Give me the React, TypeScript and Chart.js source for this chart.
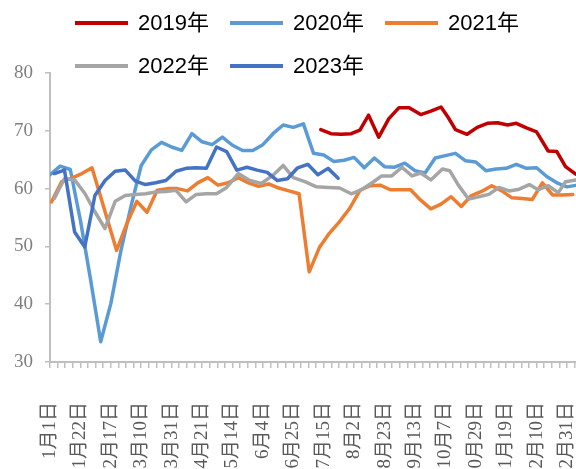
import React, { useEffect, useRef } from 'react';
import { Chart, registerables } from 'chart.js';

Chart.register(...registerables);

// Labelled dates on the x axis (one label every 21 position units)
const tickLabels = ['1月1日', '1月22日', '2月17日', '3月10日', '3月31日', '4月21日', '5月14日', '6月4日', '6月25日', '7月15日', '8月2日', '8月23日', '9月13日', '10月7日', '10月29日', '11月19日', '12月10日', '12月31日'];

const seriesNames = ['2019年', '2020年', '2021年', '2022年', '2023年'];
const seriesColors = ['#C00000', '#5B9BD5', '#ED7D31', '#A5A5A5', '#4472C4'];

// x = position along the date axis (day-like units), y = value
const x2019 = [187, 194, 201, 208, 214, 220, 227, 234, 241, 248, 256, 263, 270, 275, 280, 288, 295, 302, 309, 316, 322, 329, 336, 344, 350, 356, 363];
const y2019 = [70.2, 69.5, 69.4, 69.5, 70.1, 72.7, 68.9, 72.1, 74.0, 74.0, 72.8, 73.4, 74.1, 72.3, 70.2, 69.4, 70.6, 71.3, 71.4, 71.0, 71.3, 70.5, 69.8, 66.5, 66.4, 63.8, 62.5];

const x2020 = [0, 7, 14, 21, 28, 35, 42, 49, 56, 63, 70, 77, 84, 91, 98, 105, 112, 119, 126, 133, 140, 147, 154, 161, 168, 175, 182, 189, 196, 203, 210, 217, 224, 231, 238, 245, 252, 259, 266, 273, 280, 287, 294, 301, 308, 315, 322, 329, 336, 343, 350, 357, 364];
const y2020 = [62.4, 63.9, 63.3, 54.5, 44.3, 33.5, 40.1, 49.3, 57.0, 64.0, 66.7, 68.0, 67.2, 66.6, 69.5, 68.1, 67.6, 68.9, 67.5, 66.6, 66.6, 67.6, 69.5, 71.0, 70.6, 71.2, 66.1, 65.8, 64.7, 64.9, 65.4, 63.6, 65.3, 63.8, 63.7, 64.4, 63.1, 62.7, 65.3, 65.7, 66.1, 64.8, 64.6, 63.1, 63.4, 63.5, 64.2, 63.5, 63.6, 62.1, 61.0, 60.3, 60.6];

const x2021 = [1, 8, 15, 22, 29, 46, 53, 60, 67, 74, 81, 88, 95, 102, 109, 116, 123, 130, 137, 144, 151, 158, 165, 172, 179, 186, 193, 200, 207, 214, 221, 228, 235, 242, 249, 256, 263, 270, 277, 284, 291, 298, 305, 312, 319, 326, 333, 340, 347, 354, 361];
const y2021 = [57.7, 61.2, 61.8, 62.6, 63.6, 49.3, 53.9, 57.8, 55.9, 59.7, 60.0, 60.0, 59.6, 61.0, 61.9, 60.6, 61.0, 61.9, 61.0, 60.4, 60.8, 60.1, 59.6, 59.1, 45.6, 49.8, 52.3, 54.3, 56.6, 59.7, 60.5, 60.6, 59.8, 59.8, 59.8, 58.0, 56.5, 57.3, 58.6, 56.9, 58.8, 59.5, 60.5, 59.6, 58.4, 58.3, 58.1, 61.0, 58.9, 58.9, 59.0];

const x2022 = [3, 10, 17, 24, 31, 38, 45, 52, 59, 66, 73, 80, 87, 94, 101, 108, 115, 122, 130, 138, 146, 154, 161, 168, 176, 184, 192, 200, 208, 215, 223, 229, 236, 243, 250, 256, 263, 271, 276, 282, 289, 296, 303, 310, 317, 324, 331, 337, 344, 351, 356, 363];
const y2022 = [58.3, 61.7, 61.5, 59.2, 56.0, 53.1, 57.8, 58.8, 59.0, 59.1, 59.4, 59.5, 59.7, 57.7, 59.0, 59.1, 59.1, 60.2, 62.6, 61.4, 60.9, 62.3, 64.0, 61.9, 61.2, 60.3, 60.2, 60.1, 59.1, 59.8, 61.1, 62.2, 62.2, 63.7, 62.2, 62.7, 61.5, 63.4, 63.1, 60.6, 58.2, 58.6, 59.0, 60.2, 59.6, 59.9, 60.7, 59.8, 60.5, 59.3, 61.2, 61.5];

const x2023 = [3, 10, 17, 24, 31, 38, 45, 52, 59, 66, 73, 80, 87, 94, 101, 108, 115, 122, 129, 136, 143, 150, 157, 164, 171, 178, 185, 192, 199];
const y2023 = [62.6, 63.2, 52.5, 49.9, 58.8, 61.4, 63.0, 63.2, 61.3, 60.7, 61.0, 61.4, 63.0, 63.5, 63.6, 63.5, 67.2, 66.4, 63.2, 63.7, 63.2, 62.8, 61.4, 61.7, 63.6, 64.2, 62.4, 63.5, 61.8];

const yTickValues = [30, 40, 50, 60, 70, 80];

// layout constants
const LABEL_SPAN = 21;
const TICKS_PER_LABEL = 4;
const X_MAX = 399;
const W = 639;
const H = 480;
const PLOT_TOP = 73;
const PLOT_BOTTOM = 362;
const PLOT_LEFT = 50;
const AXIS_COLOR = '#BFBFBF';

const legendPlugin = {
  id: 'customLegend',
  afterDraw(chart: any) {
    const ctx = chart.ctx as CanvasRenderingContext2D;
    chart.data.datasets.forEach((ds: any, i: number) => {
      const row = Math.floor(i / 3);
      const col = i % 3;
      const x = 75 + col * 155;
      const y = 23 + row * 43;
      ctx.save();
      ctx.strokeStyle = ds.borderColor;
      ctx.lineWidth = 4;
      ctx.lineCap = 'butt';
      ctx.beginPath();
      ctx.moveTo(x, y);
      ctx.lineTo(x + 53, y);
      ctx.stroke();
      ctx.fillStyle = '#000000';
      ctx.font = "22px 'Liberation Sans Narrow', 'Liberation Sans', 'Noto Sans CJK SC', sans-serif";
      ctx.textBaseline = 'middle';
      ctx.textAlign = 'left';
      ctx.fillText(ds.label, x + 63, y + 1);
      ctx.restore();
    });
  },
};

export default function App() {
  const ref = useRef<HTMLCanvasElement>(null);

  useEffect(() => {
    const xs = [x2019, x2020, x2021, x2022, x2023];
    const ys = [y2019, y2020, y2021, y2022, y2023];
    const chart = new Chart(ref.current as HTMLCanvasElement, {
      type: 'line',
      data: {
        datasets: seriesNames.map((name, i) => ({
          label: name,
          data: xs[i].map((x, j) => ({ x, y: ys[i][j] })),
          borderColor: seriesColors[i],
          backgroundColor: seriesColors[i],
          borderWidth: 3.5,
          pointRadius: 0,
          pointHoverRadius: 0,
          tension: 0,
          fill: false,
          order: seriesNames.length - 1 - i,
          borderJoinStyle: 'round' as const,
          borderCapStyle: 'round' as const,
        })),
      },
      options: {
        responsive: false,
        animation: false,
        devicePixelRatio: 1,
        layout: { padding: { top: PLOT_TOP, left: 0, right: 0, bottom: 0 } },
        plugins: { legend: { display: false }, tooltip: { enabled: false } },
        scales: {
          x: {
            type: 'linear',
            min: 0,
            max: X_MAX,
            afterFit: (s: any) => { s.height = H - PLOT_BOTTOM; },
            afterBuildTicks: (s: any) => {
              const t: any[] = [];
              const step = LABEL_SPAN / TICKS_PER_LABEL;
              for (let k = 0; k * step <= 370; k++) t.push({ value: k * step });
              s.ticks = t;
            },
            ticks: {
              autoSkip: false,
              minRotation: 90,
              maxRotation: 90,
              padding: 34,
              color: '#595959',
              font: { family: "'Liberation Serif', 'Noto Sans CJK SC', serif", size: 19 },
              callback: (_v: any, i: number) => (i % TICKS_PER_LABEL === 0 ? (tickLabels[i / TICKS_PER_LABEL] ?? '') : ''),
            },
            grid: { drawOnChartArea: false, drawTicks: true, tickLength: 6, color: AXIS_COLOR, lineWidth: 1.5 },
            border: { color: AXIS_COLOR, width: 2 },
          },
          y: {
            min: 30,
            max: 80,
            afterFit: (s: any) => { s.width = PLOT_LEFT; },
            afterBuildTicks: (s: any) => { s.ticks = yTickValues.map((v) => ({ value: v })); },
            ticks: {
              padding: 12,
              color: '#7F7F7F',
              font: { family: "'Liberation Serif', serif", size: 19 },
            },
            grid: { drawOnChartArea: false, drawTicks: true, tickLength: 5, color: AXIS_COLOR, lineWidth: 1.5 },
            border: { color: AXIS_COLOR, width: 2 },
          },
        },
      },
      plugins: [legendPlugin],
    } as any);
    return () => chart.destroy();
  }, []);

  return (
    <div style={{ position: 'fixed', left: 0, top: 0, width: 576, height: 469, overflow: 'hidden', background: '#ffffff' }}>
      <canvas ref={ref} width={W} height={H} style={{ display: 'block', width: W, height: H }} />
    </div>
  );
}
